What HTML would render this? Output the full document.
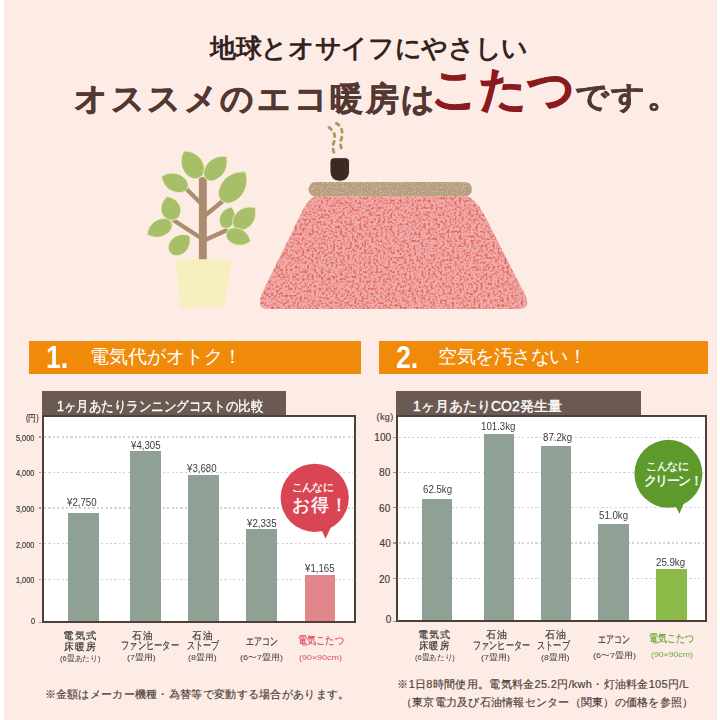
<!DOCTYPE html>
<html><head><meta charset="utf-8">
<style>
html,body{margin:0;padding:0;width:720px;height:720px;overflow:hidden;background:#fff;}
body{position:relative;font-family:"Liberation Sans",sans-serif;}
.bg{position:absolute;left:4px;top:0;width:713px;height:720px;background:#fdebe5;}
.abs{position:absolute;white-space:nowrap;}
.t1{left:0;width:738px;text-align:center;top:33.5px;font-family:"Liberation Serif",serif;font-weight:bold;font-size:25.6px;letter-spacing:-0.35px;line-height:30px;color:#33231f;}
.t2{font-family:"Liberation Serif",serif;font-weight:bold;line-height:50px;color:#533831;}
.t2 .k{font-size:46px;color:#8e1b1f;}
.obar{position:absolute;background:#ef8a0b;color:#fff;}
.num{position:absolute;font-weight:bold;font-size:31px;line-height:30px;transform:scaleX(0.86);transform-origin:0 0;letter-spacing:0px;}
.otx{position:absolute;font-size:19px;line-height:22px;}
.hdr{position:absolute;background:#6a5a51;color:#fff;font-size:13px;line-height:26px;}
.box{position:absolute;background:#fff;border:2.5px solid #4e3f38;box-sizing:border-box;}
.grid{position:absolute;height:1.2px;background:repeating-linear-gradient(90deg,#d4d4d4 0 2.2px,transparent 2.2px 4.4px);}
.ylab{position:absolute;font-size:9px;line-height:10px;color:#333;text-align:right;width:40px;}
.bar{position:absolute;background:#8c9e94;}
.val{position:absolute;font-size:11px;line-height:12px;color:#333;text-align:center;width:60px;}
.lab{position:absolute;font-size:11px;line-height:11.5px;color:#333;text-align:center;width:80px;font-weight:bold;}
.lab small{display:block;font-size:8px;line-height:14px;font-weight:normal;}
.note{position:absolute;font-size:11px;line-height:15px;color:#333;}
.tx{position:absolute;white-space:nowrap;line-height:1;}
.tick{position:absolute;width:2.5px;height:1.2px;background:#9a9a9a;}
</style></head><body>
<div class="bg"></div>

<div class="abs t1">地球とオサイフにやさしい</div>
<div class="abs t2" style="left:74px;top:73.5px;font-size:33px;letter-spacing:2.6px;-webkit-text-stroke:0.5px #533831;">オススメのエコ暖房は</div>
<div class="abs t2 k2" style="left:431px;top:64.5px;font-size:46.5px;letter-spacing:0px;color:#8b1a1e;-webkit-text-stroke:1px #8b1a1e;">こたつ</div>
<div class="abs t2" style="left:575px;top:72px;font-size:33px;letter-spacing:2px;transform:scaleY(0.9);transform-origin:0 25px;-webkit-text-stroke:0.5px #533831;">です。</div>

<svg class="abs" style="left:0;top:0" width="720" height="720" viewBox="0 0 720 720">
  <defs>
    <filter id="tex" x="0" y="0" width="100%" height="100%" color-interpolation-filters="sRGB">
      <feTurbulence type="fractalNoise" baseFrequency="0.42" numOctaves="2" seed="4" result="n"/>
      <feColorMatrix in="n" type="matrix" values="0 0 0 0 0.88  0 0 0 0 0.40  0 0 0 0 0.36  3.6 0 0 0 -1.62" result="spk"/>
      <feGaussianBlur in="spk" stdDeviation="0.55" result="spkb"/>
      <feComposite in="spkb" in2="SourceGraphic" operator="in" result="spk2"/>
      <feMerge><feMergeNode in="SourceGraphic"/><feMergeNode in="spk2"/></feMerge>
    </filter>
    <filter id="tex2" x="0" y="0" width="100%" height="100%" color-interpolation-filters="sRGB">
      <feTurbulence type="fractalNoise" baseFrequency="0.8" numOctaves="2" seed="7" result="n"/>
      <feColorMatrix in="n" type="matrix" values="0 0 0 0 0.86  0 0 0 0 0.78  0 0 0 0 0.66  3 0 0 0 -1.45" result="spk"/>
      <feComposite in="spk" in2="SourceGraphic" operator="in" result="spk2"/>
      <feMerge><feMergeNode in="SourceGraphic"/><feMergeNode in="spk2"/></feMerge>
    </filter>
  </defs>
  <!-- plant -->
  <g stroke="#ab8c6e" stroke-width="4.3" stroke-linecap="round" fill="none">
    <line x1="201" y1="203.5" x2="186" y2="188.5"/>
    <line x1="205" y1="215.5" x2="223.5" y2="200.5"/>
    <line x1="201" y1="238" x2="174" y2="220.5"/>
    <line x1="205" y1="240" x2="226" y2="230.5"/>
  </g>
  <path d="M198.9,260 L198.9,179.5 Q198.9,177 202.8,177 Q206.8,177 206.8,179.5 L206.8,260Z" fill="#ab8c6e"/>
  <g fill="#a7bf69" stroke="#f2eec6" stroke-width="0.8">
<path transform="translate(191.95,164.25) rotate(-31.3)" d="M0,-15.50 C9.14,-10.08 12.04,-0.78 9.68,6.98 C7.52,13.95 3.23,15.50 0,15.50 C-3.23,15.50 -7.52,13.95 -9.68,6.98 C-12.04,-0.78 -9.14,-10.08 0,-15.50Z"/>
<path transform="translate(216.25,167.75) rotate(42.3)" d="M0,-15.22 C8.07,-9.89 10.64,-0.76 8.55,6.85 C6.65,13.70 2.85,15.22 0,15.22 C-2.85,15.22 -6.65,13.70 -8.55,6.85 C-10.64,-0.76 -8.07,-9.89 0,-15.22Z"/>
<path transform="translate(174.50,182.25) rotate(-66.1)" d="M0,-14.21 C7.86,-9.24 10.36,-0.71 8.33,6.40 C6.47,12.79 2.77,14.21 0,14.21 C-2.77,14.21 -6.47,12.79 -8.33,6.40 C-10.36,-0.71 -7.86,-9.24 0,-14.21Z"/>
<path transform="translate(233.75,186.50) rotate(39.0)" d="M0,-18.66 C10.20,-12.13 13.44,-0.93 10.80,8.40 C8.40,16.80 3.60,18.66 0,18.66 C-3.60,18.66 -8.40,16.80 -10.80,8.40 C-13.44,-0.93 -10.20,-12.13 0,-18.66Z"/>
<path transform="translate(170.50,208.25) rotate(-16.6)" d="M0,-12.26 C8.50,-7.97 11.20,-0.61 9.00,5.52 C7.00,11.03 3.00,12.26 0,12.26 C-3.00,12.26 -7.00,11.03 -9.00,5.52 C-11.20,-0.61 -8.50,-7.97 0,-12.26Z"/>
<path transform="translate(159.25,228.50) rotate(-116.1)" d="M0,-13.64 C7.44,-8.87 9.80,-0.68 7.88,6.14 C6.12,12.28 2.62,13.64 0,13.64 C-2.62,13.64 -6.12,12.28 -7.88,6.14 C-9.80,-0.68 -7.44,-8.87 0,-13.64Z"/>
<path transform="translate(180.00,244.25) rotate(47.4)" d="M0,-12.92 C8.07,-8.40 10.64,-0.65 8.55,5.81 C6.65,11.62 2.85,12.92 0,12.92 C-2.85,12.92 -6.65,11.62 -8.55,5.81 C-10.64,-0.65 -8.07,-8.40 0,-12.92Z"/>
<path transform="translate(227.75,217.50) rotate(19.7)" d="M0,-11.15 C6.59,-7.25 8.68,-0.56 6.98,5.02 C5.42,10.03 2.32,11.15 0,11.15 C-2.32,11.15 -5.42,10.03 -6.98,5.02 C-8.68,-0.56 -6.59,-7.25 0,-11.15Z"/>
<path transform="translate(245.00,217.75) rotate(44.3)" d="M0,-14.32 C8.29,-9.31 10.92,-0.72 8.78,6.44 C6.82,12.89 2.92,14.32 0,14.32 C-2.92,14.32 -6.82,12.89 -8.78,6.44 C-10.92,-0.72 -8.29,-9.31 0,-14.32Z"/>
<path transform="translate(238.50,237.00) rotate(110.6)" d="M0,-12.82 C7.22,-8.33 9.52,-0.64 7.65,5.77 C5.95,11.53 2.55,12.82 0,12.82 C-2.55,12.82 -5.95,11.53 -7.65,5.77 C-9.52,-0.64 -7.22,-8.33 0,-12.82Z"/>
  </g>
  <path d="M176.1,259.2 L231.7,259.2 L224.2,307.8 L180,307.8Z" fill="#f7efc0"/>

  <!-- steam -->
  <g stroke="#a0a062" stroke-width="2.9" fill="none" stroke-dasharray="3 5" stroke-linecap="round">
    <path d="M329,127.5 C334,131 336,136 334,142 C332,147 333,150 334.5,154"/>
    <path d="M336.4,123.3 C341,126 343,131 342,137 C340,142 340,145 342,150"/>
  </g>
  <!-- cup -->
  <path d="M330,161.5 Q330,157.7 334,157.7 L345.5,157.7 Q349.5,157.7 349.5,161.5 L349.5,171 C349.5,177.5 345.5,181.2 339.8,181.2 C334,181.2 330,177.5 330,171Z" fill="#3e291f" stroke="#fff" stroke-width="0.8"/>
  <!-- table top -->
  <rect x="308.5" y="182" width="163.5" height="14.5" rx="7.2" fill="#b59c7c" filter="url(#tex2)"/>
  <!-- futon -->
  <path d="M314,196.5 L468,196.5 C477,201 483,212 488,222 L521,287 C525,294 528,299 527,304 C526,308 523,309 518,309 L268,309 C263,309 260,307.5 260,303 C260,298 262,293 264,289 L297,222 C302,212 306,201 314,196.5Z" fill="#f0abaa" filter="url(#tex)"/>
</svg>

<!-- Section 1 -->
<div class="obar" style="left:29px;top:341px;width:331.5px;height:32.5px;">
  <div class="num" style="left:17px;top:2px;">1.</div>
  <div class="otx" style="left:61px;top:5px;">電気代がオトク！</div>
</div>
<div class="obar" style="left:379px;top:340.5px;width:329px;height:33.5px;">
  <div class="num" style="left:17px;top:2px;">2.</div>
  <div class="otx" style="left:59px;top:5px;letter-spacing:-0.5px;">空気を汚さない！</div>
</div>


<div class="hdr" style="left:41.6px;top:390.7px;width:244.60px;height:25.10px;"><span style="position:absolute;top:2px;font-size:14px;white-space:nowrap;left:15px;-webkit-text-stroke:0.35px #fff;transform:scaleX(0.89);transform-origin:0 0;">1ヶ月あたりランニングコストの比較</span></div>
<div class="box" style="left:41.6px;top:414.8px;width:314.40px;height:208.70px;border-width:2.5px;"></div>
<div class="grid" style="left:44.10px;top:436.40px;width:309.40px"></div>
<div class="tick" style="left:38.60px;top:436.40px;"></div>
<div class="grid" style="left:44.10px;top:471.90px;width:309.40px"></div>
<div class="tick" style="left:38.60px;top:471.90px;"></div>
<div class="grid" style="left:44.10px;top:507.40px;width:309.40px"></div>
<div class="tick" style="left:38.60px;top:507.40px;"></div>
<div class="grid" style="left:44.10px;top:543.15px;width:309.40px"></div>
<div class="tick" style="left:38.60px;top:543.15px;"></div>
<div class="grid" style="left:44.10px;top:578.65px;width:309.40px"></div>
<div class="tick" style="left:38.60px;top:578.65px;"></div>
<div class="tick" style="left:38.60px;top:621.70px;"></div>
<div class="bar" style="left:68.0px;top:512.7px;width:30.50px;height:108.30px;background:#8fa094"></div>
<div class="bar" style="left:130.4px;top:450.8px;width:30.50px;height:170.20px;background:#8fa094"></div>
<div class="bar" style="left:188.3px;top:475.1px;width:30.45px;height:145.90px;background:#8fa094"></div>
<div class="bar" style="left:246.3px;top:528.5px;width:30.45px;height:92.50px;background:#8fa094"></div>
<div class="bar" style="left:304.7px;top:575.4px;width:30.50px;height:45.60px;background:#e2868c"></div>
<div class="hdr" style="left:396.1px;top:390.7px;width:244.70px;height:25.10px;"><span style="position:absolute;top:2px;font-size:14px;white-space:nowrap;left:17px;-webkit-text-stroke:0.35px #fff;">1ヶ月あたりCO2発生量</span></div>
<div class="box" style="left:396.1px;top:414.8px;width:310.90px;height:207.50px;border-width:2.6px;"></div>
<div class="grid" style="left:398.70px;top:436.70px;width:305.70px"></div>
<div class="tick" style="left:393.10px;top:436.70px;"></div>
<div class="grid" style="left:398.70px;top:471.70px;width:305.70px"></div>
<div class="tick" style="left:393.10px;top:471.70px;"></div>
<div class="grid" style="left:398.70px;top:506.90px;width:305.70px"></div>
<div class="tick" style="left:393.10px;top:506.90px;"></div>
<div class="grid" style="left:398.70px;top:542.40px;width:305.70px"></div>
<div class="tick" style="left:393.10px;top:542.40px;"></div>
<div class="grid" style="left:398.70px;top:577.70px;width:305.70px"></div>
<div class="tick" style="left:393.10px;top:577.70px;"></div>
<div class="tick" style="left:393.10px;top:620.50px;"></div>
<div class="bar" style="left:422.3px;top:499.3px;width:30.20px;height:120.40px;background:#8fa094"></div>
<div class="bar" style="left:484.0px;top:434.1px;width:30.00px;height:185.60px;background:#8fa094"></div>
<div class="bar" style="left:541.2px;top:445.9px;width:30.00px;height:173.80px;background:#8fa094"></div>
<div class="bar" style="left:598.3px;top:524.1px;width:30.45px;height:95.60px;background:#8fa094"></div>
<div class="bar" style="left:656.0px;top:569.2px;width:30.50px;height:50.50px;background:#8bba48"></div>
<svg class="abs" style="left:0;top:0" width="720" height="720" viewBox="0 0 720 720">
  <circle cx="314.7" cy="497.8" r="34.1" fill="#d94552"/>
  <path d="M321,529 L325.6,538.8 L331,527Z" fill="#d94552"/>
  <circle cx="668.4" cy="473.8" r="34" fill="#5d9a2b"/>
  <path d="M675,505 L679.4,513.8 L684,503Z" fill="#5d9a2b"/>
</svg>
<div class="tx" id="lv1" style="left:67.23px;top:496.50px;font-size:11px;color:#3b3b3b;transform:scaleX(0.88);transform-origin:0 0">¥2,750</div>
<div class="tx" id="lv2" style="left:130.70px;top:439.50px;font-size:11px;color:#3b3b3b;transform:scaleX(0.88);transform-origin:0 0">¥4,305</div>
<div class="tx" id="lv3" style="left:186.55px;top:463.00px;font-size:11px;color:#3b3b3b;transform:scaleX(0.88);transform-origin:0 0">¥3,680</div>
<div class="tx" id="lv4" style="left:246.95px;top:517.50px;font-size:11px;color:#3b3b3b;transform:scaleX(0.88);transform-origin:0 0">¥2,335</div>
<div class="tx" id="lv5" style="left:305.10px;top:562.70px;font-size:11px;color:#3b3b3b;transform:scaleX(0.88);transform-origin:0 0">¥1,165</div>
<div class="tx" id="rv1" style="left:423.25px;top:484.22px;font-size:11px;color:#3b3b3b;transform:scaleX(0.88);transform-origin:0 0">62.5kg</div>
<div class="tx" id="rv2" style="left:480.60px;top:421.00px;font-size:11px;color:#3b3b3b;transform:scaleX(0.88);transform-origin:0 0">101.3kg</div>
<div class="tx" id="rv3" style="left:542.80px;top:432.25px;font-size:11px;color:#3b3b3b;transform:scaleX(0.88);transform-origin:0 0">87.2kg</div>
<div class="tx" id="rv4" style="left:599.30px;top:510.25px;font-size:11px;color:#3b3b3b;transform:scaleX(0.88);transform-origin:0 0">51.0kg</div>
<div class="tx" id="rv5" style="left:655.75px;top:556.75px;font-size:11px;color:#3b3b3b;transform:scaleX(0.88);transform-origin:0 0">25.9kg</div>
<div class="tx" id="ly0" style="left:25.62px;top:413.75px;font-size:8.5px;color:#3b3b3b;-webkit-text-stroke:0.2px #3b3b3b;transform:scaleX(0.86);transform-origin:0 0">(円)</div>
<div class="tx" id="ly5" style="left:15.73px;top:434.10px;font-size:8.5px;color:#3b3b3b;-webkit-text-stroke:0.2px #3b3b3b;transform:scaleX(0.86);transform-origin:0 0">5,000</div>
<div class="tx" id="ly4" style="left:16.23px;top:469.10px;font-size:8.5px;color:#3b3b3b;-webkit-text-stroke:0.2px #3b3b3b;transform:scaleX(0.86);transform-origin:0 0">4,000</div>
<div class="tx" id="ly3" style="left:15.73px;top:505.10px;font-size:8.5px;color:#3b3b3b;-webkit-text-stroke:0.2px #3b3b3b;transform:scaleX(0.86);transform-origin:0 0">3,000</div>
<div class="tx" id="ly2" style="left:16.23px;top:540.50px;font-size:8.5px;color:#3b3b3b;-webkit-text-stroke:0.2px #3b3b3b;transform:scaleX(0.86);transform-origin:0 0">2,000</div>
<div class="tx" id="ly1" style="left:16.40px;top:575.70px;font-size:8.5px;color:#3b3b3b;-webkit-text-stroke:0.2px #3b3b3b;transform:scaleX(0.86);transform-origin:0 0">1,000</div>
<div class="tx" id="lyz" style="left:30.90px;top:617.30px;font-size:8.5px;color:#3b3b3b;-webkit-text-stroke:0.2px #3b3b3b;transform:scaleX(0.86);transform-origin:0 0">0</div>
<div class="tx" id="ry0" style="left:376.50px;top:413.00px;font-size:9px;color:#3b3b3b;letter-spacing:0.4px;-webkit-text-stroke:0.15px #3b3b3b">(kg)</div>
<div class="tx" id="ry5" style="left:374.35px;top:433.20px;font-size:10px;color:#3b3b3b;-webkit-text-stroke:0.15px #3b3b3b">100</div>
<div class="tx" id="ry4" style="left:379.10px;top:468.20px;font-size:10px;color:#3b3b3b;-webkit-text-stroke:0.15px #3b3b3b">80</div>
<div class="tx" id="ry3" style="left:379.10px;top:503.60px;font-size:10px;color:#3b3b3b;-webkit-text-stroke:0.15px #3b3b3b">60</div>
<div class="tx" id="ry2" style="left:379.60px;top:538.60px;font-size:10px;color:#3b3b3b;-webkit-text-stroke:0.15px #3b3b3b">40</div>
<div class="tx" id="ry1" style="left:379.00px;top:575.00px;font-size:10px;color:#3b3b3b;-webkit-text-stroke:0.15px #3b3b3b">20</div>
<div class="tx" id="ryz" style="left:385.75px;top:615.40px;font-size:10px;color:#3b3b3b;-webkit-text-stroke:0.15px #3b3b3b">0</div>
<div class="tx" id="lx1a" style="left:62.97px;top:630.50px;font-size:10px;letter-spacing:1.2px;color:#3a3a3a;-webkit-text-stroke:0.2px #3a3a3a;transform:scaleX(1.0323);transform-origin:0 0">電気式</div>
<div class="tx" id="lx1b" style="left:63.51px;top:641.60px;font-size:10px;letter-spacing:1.2px;color:#3a3a3a;-webkit-text-stroke:0.2px #3a3a3a;transform:scaleX(0.9716);transform-origin:0 0">床暖房</div>
<div class="tx" id="lx1c" style="left:60.30px;top:654.55px;font-size:8px;color:#3a3a3a;transform:scaleX(0.9696);transform-origin:0 0">(6畳あたり)</div>
<div class="tx" id="lx2a" style="left:132.47px;top:630.55px;font-size:10px;letter-spacing:1.2px;color:#3a3a3a;-webkit-text-stroke:0.2px #3a3a3a;transform:scaleX(0.9569);transform-origin:0 0">石油</div>
<div class="tx" id="lx2b" style="left:121.10px;top:640.40px;font-size:10.5px;color:#3a3a3a;-webkit-text-stroke:0.2px #3a3a3a;transform:scaleX(0.7510);transform-origin:0 0">ファンヒーター</div>
<div class="tx" id="lx2c" style="left:127.14px;top:653.85px;font-size:8px;color:#3a3a3a;transform:scaleX(1.1182);transform-origin:0 0">(7畳用)</div>
<div class="tx" id="lx3a" style="left:192.47px;top:630.55px;font-size:10px;letter-spacing:1.2px;color:#3a3a3a;-webkit-text-stroke:0.2px #3a3a3a;transform:scaleX(0.9569);transform-origin:0 0">石油</div>
<div class="tx" id="lx3b" style="left:186.90px;top:640.40px;font-size:10.5px;color:#3a3a3a;-webkit-text-stroke:0.2px #3a3a3a;transform:scaleX(0.7350);transform-origin:0 0">ストーブ</div>
<div class="tx" id="lx3c" style="left:188.40px;top:653.85px;font-size:8px;color:#3a3a3a;transform:scaleX(1.1107);transform-origin:0 0">(8畳用)</div>
<div class="tx" id="lx4a" style="left:246.41px;top:636.35px;font-size:10.5px;color:#3a3a3a;-webkit-text-stroke:0.2px #3a3a3a;transform:scaleX(0.7315);transform-origin:0 0">エアコン</div>
<div class="tx" id="lx4c" style="left:240.44px;top:653.85px;font-size:8px;color:#3a3a3a;transform:scaleX(1.1276);transform-origin:0 0">(6〜7畳用)</div>
<div class="tx" id="lx5a" style="left:297.88px;top:635.45px;font-size:10.5px;color:#d9505e;-webkit-text-stroke:0.2px #d9505e;transform:scaleX(0.8315);transform-origin:0 0">電気こたつ</div>
<div class="tx" id="lx5c" style="left:298.59px;top:653.80px;font-size:8px;color:#d9505e;transform:scaleX(1.1146);transform-origin:0 0">(90×90cm)</div>
<div class="tx" id="rx1a" style="left:417.90px;top:630.00px;font-size:10px;letter-spacing:1.2px;color:#3a3a3a;-webkit-text-stroke:0.2px #3a3a3a;transform:scaleX(1.0000);transform-origin:0 0">電気式</div>
<div class="tx" id="rx1b" style="left:419.01px;top:640.75px;font-size:10px;letter-spacing:1.2px;color:#3a3a3a;-webkit-text-stroke:0.2px #3a3a3a;transform:scaleX(0.9375);transform-origin:0 0">床暖房</div>
<div class="tx" id="rx1c" style="left:414.52px;top:654.25px;font-size:8px;color:#3a3a3a;transform:scaleX(0.9518);transform-origin:0 0">(6畳あたり)</div>
<div class="tx" id="rx2a" style="left:486.47px;top:629.75px;font-size:10px;letter-spacing:1.2px;color:#3a3a3a;-webkit-text-stroke:0.2px #3a3a3a;transform:scaleX(0.9968);transform-origin:0 0">石油</div>
<div class="tx" id="rx2b" style="left:472.89px;top:639.62px;font-size:10.5px;color:#3a3a3a;-webkit-text-stroke:0.2px #3a3a3a;transform:scaleX(0.7413);transform-origin:0 0">ファンヒーター</div>
<div class="tx" id="rx2c" style="left:481.14px;top:653.50px;font-size:8px;color:#3a3a3a;transform:scaleX(1.1218);transform-origin:0 0">(7畳用)</div>
<div class="tx" id="rx3a" style="left:545.00px;top:629.75px;font-size:10px;letter-spacing:1.2px;color:#3a3a3a;-webkit-text-stroke:0.2px #3a3a3a;transform:scaleX(0.9968);transform-origin:0 0">石油</div>
<div class="tx" id="rx3b" style="left:537.47px;top:639.62px;font-size:10.5px;color:#3a3a3a;-webkit-text-stroke:0.2px #3a3a3a;transform:scaleX(0.7440);transform-origin:0 0">ストーブ</div>
<div class="tx" id="rx3c" style="left:541.49px;top:653.50px;font-size:8px;color:#3a3a3a;transform:scaleX(1.1031);transform-origin:0 0">(8畳用)</div>
<div class="tx" id="rx4a" style="left:598.09px;top:634.35px;font-size:10.5px;color:#3a3a3a;-webkit-text-stroke:0.2px #3a3a3a;transform:scaleX(0.7327);transform-origin:0 0">エアコン</div>
<div class="tx" id="rx4c" style="left:592.90px;top:651.85px;font-size:8px;color:#3a3a3a;transform:scaleX(1.1276);transform-origin:0 0">(6〜7畳用)</div>
<div class="tx" id="rx5a" style="left:649.35px;top:633.45px;font-size:10.5px;color:#6aa83a;-webkit-text-stroke:0.2px #6aa83a;transform:scaleX(0.8175);transform-origin:0 0">電気こたつ</div>
<div class="tx" id="rx5c" style="left:650.82px;top:651.30px;font-size:8px;color:#6aa83a;transform:scaleX(1.0880);transform-origin:0 0">(90×90cm)</div>
<div class="tx" id="b1a" style="left:291.50px;top:481.50px;font-size:10.5px;color:#fff;-webkit-text-stroke:0.3px #fff;letter-spacing:-0.6px">こんなに</div>
<div class="tx" id="b1b" style="left:291.50px;top:496.00px;font-size:18px;color:#fff;-webkit-text-stroke:0.4px #fff;letter-spacing:1px">お得！</div>
<div class="tx" id="b2a" style="left:646.00px;top:461.00px;font-size:10.5px;color:#fff;-webkit-text-stroke:0.3px #fff;letter-spacing:-0.4px">こんなに</div>
<div class="tx" id="b2b" style="left:644.00px;top:474.50px;font-size:12.5px;color:#fff;letter-spacing:-1.6px;-webkit-text-stroke:0.4px #fff">クリーン<span style="letter-spacing:0">！</span></div>
<div class="tx" id="n1" style="left:44.50px;top:689.00px;font-size:11px;color:#4a3d38;-webkit-text-stroke:0.15px #4a3d38;letter-spacing:0.3px">※金額はメーカー機種・為替等で変動する場合があります。</div>
<div class="tx" id="n2" style="left:397.35px;top:679.40px;font-size:11px;color:#4a3d38;-webkit-text-stroke:0.15px #4a3d38;letter-spacing:0.3px">※1日8時間使用。電気料金25.2円/kwh・灯油料金105円/L</div>
<div class="tx" id="n3" style="left:400.85px;top:696.60px;font-size:11px;color:#4a3d38;-webkit-text-stroke:0.15px #4a3d38;letter-spacing:0.25px">（東京電力及び石油情報センター（関東）の価格を参照）</div>
</body></html>
